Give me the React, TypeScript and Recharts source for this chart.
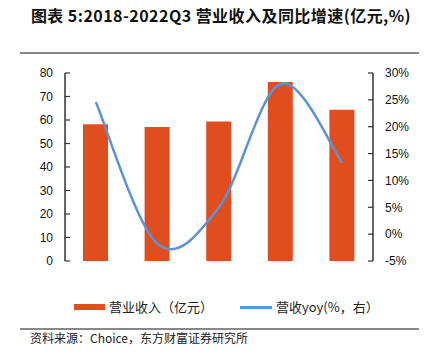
import React from 'react';
import { ComposedChart, Bar, Line, XAxis, YAxis } from 'recharts';

const categories = ['2018', '2019', '2020', '2021', '22Q1-3'];
const revenue = [58.2, 57.0, 59.4, 76.2, 64.4];
const yoy = [24.6, -1.8, 5.0, 28.0, 13.3];
const leftTicks = [0, 10, 20, 30, 40, 50, 60, 70, 80];
const rightTicks = [-5, 0, 5, 10, 15, 20, 25, 30];
const boundaryTicks = [0, 1, 2, 3, 4, 5];

const data = categories.map((name, i) => ({ name, revenue: revenue[i], yoy: yoy[i] }));

// excel-like smoothed line (catmull-rom as cubic bezier)
const excelSmooth = (context: any) => {
  let pts: number[][] = [];
  return {
    areaStart() {},
    areaEnd() {},
    lineStart() {
      pts = [];
    },
    point(x: number, y: number) {
      pts.push([+x, +y]);
    },
    lineEnd() {
      if (!pts.length) return;
      context.moveTo(pts[0][0], pts[0][1]);
      const k = 1 / 6;
      for (let i = 0; i < pts.length - 1; i++) {
        const p0 = pts[i - 1] || pts[i];
        const p1 = pts[i];
        const p2 = pts[i + 1];
        const p3 = pts[i + 2] || pts[i + 1];
        context.bezierCurveTo(
          p1[0] + (p2[0] - p0[0]) * k,
          p1[1] + (p2[1] - p0[1]) * k,
          p2[0] - (p3[0] - p1[0]) * k,
          p2[1] - (p3[1] - p1[1]) * k,
          p2[0],
          p2[1]
        );
      }
    },
  };
};

const BAR = '#E04E1F';
const LINE = '#5B93D8';
const AXIS = '#333';
const tickFont = { fontFamily: '"Liberation Sans", Arial, sans-serif', fontSize: 12, fill: '#111' };
const cjk = '"Noto Sans CJK SC", sans-serif';

export default function App() {
  return (
    <div style={{ position: 'absolute', left: 0, top: 0, width: 426, height: 357, background: '#fff', overflow: 'hidden' }}>
      <div
        style={{
          position: 'absolute',
          left: 0,
          top: 5,
          width: 442,
          textAlign: 'center',
          fontFamily: cjk,
          fontWeight: 700,
          fontSize: 16,
          lineHeight: '20px',
          letterSpacing: 0.45,
          color: '#111',
        }}
      >
        图表 5:2018-2022Q3 营业收入及同比增速(亿元,%)
      </div>
      <div style={{ position: 'absolute', left: 20, top: 52, width: 399, height: 1.5, background: '#888' }} />

      <div style={{ position: 'absolute', left: 0, top: 0 }}>
        <ComposedChart width={426} height={357} data={data} margin={{ top: 73, right: 0, bottom: 96, left: 0 }}>
          <XAxis
            dataKey="name"
            height={0}
            tickLine={false}
            tickSize={0}
            tickMargin={12}
            axisLine={{ stroke: AXIS, strokeWidth: 1.5 }}
            tick={tickFont}
            interval={0}
          />
          <XAxis
            xAxisId="bounds"
            type="number"
            domain={[0, 5]}
            ticks={boundaryTicks}
            height={0}
            axisLine={false}
            tick={false}
            tickSize={-5}
            tickLine={{ stroke: AXIS, strokeWidth: 1.2 }}
          />
          <YAxis
            yAxisId="left"
            width={65}
            domain={[0, 80]}
            ticks={leftTicks}
            interval={0}
            tickSize={-5}
            tickMargin={17}
            axisLine={{ stroke: AXIS, strokeWidth: 1.5 }}
            tickLine={{ stroke: AXIS, strokeWidth: 1.2 }}
            tick={tickFont}
          />
          <YAxis
            yAxisId="right"
            orientation="right"
            width={53}
            domain={[-5, 30]}
            ticks={rightTicks}
            interval={0}
            tickSize={-5}
            tickMargin={17}
            tickFormatter={(v: number) => `${v}%`}
            axisLine={{ stroke: AXIS, strokeWidth: 1.5 }}
            tickLine={{ stroke: AXIS, strokeWidth: 1.2 }}
            tick={{ ...tickFont, textAnchor: 'start' }}
          />
          <Bar yAxisId="left" dataKey="revenue" fill={BAR} barSize={25} isAnimationActive={false} />
          <Line
            yAxisId="right"
            dataKey="yoy"
            type={excelSmooth as any}
            stroke={LINE}
            strokeWidth={2.5}
            dot={false}
            activeDot={false}
            isAnimationActive={false}
          />
        </ComposedChart>
      </div>

      <div style={{ position: 'absolute', left: 74, top: 304, width: 31, height: 6, background: BAR }} />
      <div style={{ position: 'absolute', left: 109, top: 297, fontFamily: cjk, fontSize: 13, lineHeight: '20px', color: '#222' }}>
        营业收入（亿元）
      </div>
      <div style={{ position: 'absolute', left: 240, top: 306, width: 32, height: 2.5, background: LINE }} />
      <div style={{ position: 'absolute', left: 276, top: 297, fontFamily: cjk, fontSize: 13, lineHeight: '20px', color: '#222' }}>
        营收yoy(%，右）
      </div>

      <div style={{ position: 'absolute', left: 20, top: 328, width: 399, height: 1.5, background: '#888' }} />
      <div style={{ position: 'absolute', left: 30, top: 330, fontFamily: cjk, fontSize: 12, lineHeight: '16px', color: '#222' }}>
        资料来源：Choice，东方财富证券研究所
      </div>
    </div>
  );
}
